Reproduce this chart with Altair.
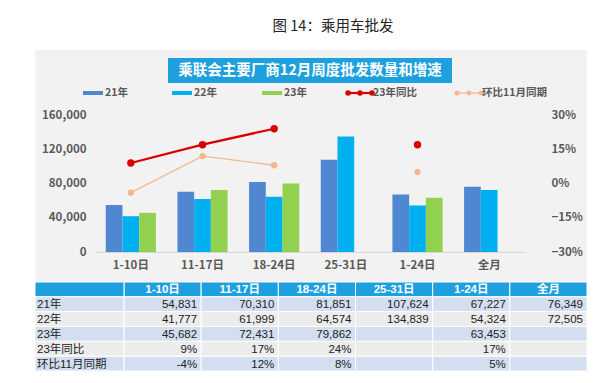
import altair as alt
import pandas as pd

# ---------------- data ----------------
categories = ["1-10日", "11-17日", "18-24日", "25-31日", "1-24日", "全月"]
series = ["21年", "22年", "23年"]
sales_21 = [54831, 70310, 81851, 107624, 67227, 76349]
sales_22 = [41777, 61999, 64574, 134839, 54324, 72505]
sales_23 = [45682, 72431, 79862, None, 63453, None]
yoy_23 = [0.09, 0.17, 0.24, None, 0.17, None]
mom_nov = [-0.04, 0.12, 0.08, None, 0.05, None]
period_group = ["周", "周", "周", "周", "累计", "累计"]
rate_names = ["23年同比", "环比11月同期"]
table_rows = ["21年", "22年", "23年", "23年同比", "环比11月同期"]
left_ticks = [0, 40000, 80000, 120000, 160000]
right_ticks = [-0.3, -0.15, 0, 0.15, 0.3]
fig_title = "图 14：乘用车批发"
chart_title = "乘联会主要厂商12月周度批发数量和增速"

# ---------------- styles ----------------
C21, C22, C23 = "#4f87d1", "#00aff0", "#92d050"
RED, ORANGE = "#d90000", "#f5b88c"
bar_colors = [C21, C22, C23]
rate_colors = [RED, ORANGE]
HDR = "#1ea0df"
ROW_BLUE, ROW_GRAY = "#d3dff0", "#ececec"
PANEL = "#f2f2f2"
AXIS_TXT = "#595959"
FONT_CJK = "Noto Sans CJK SC"
FONT_TBL = "Liberation Sans, Noto Sans CJK SC"

# ---------------- tables ----------------
bar_rows = []
for s, vals in zip(series, [sales_21, sales_22, sales_23]):
    for c, v in zip(categories, vals):
        if v is not None:
            bar_rows.append({"category": c, "series": s, "value": v})
bar_df = pd.DataFrame(bar_rows)

rate_rows = []
for name, vals in zip(rate_names, [yoy_23, mom_nov]):
    for c, g, v in zip(categories, period_group, vals):
        if v is not None:
            rate_rows.append({"category": c, "rate": name, "grp": g, "rate_value": v})
rate_df = pd.DataFrame(rate_rows)

row_keys = ["表头"] + table_rows
cell_rows, text_rows = [], []
for r in row_keys:
    for c in categories:
        cell_rows.append({"row": r, "col": c})
for c in categories:
    text_rows.append({"row": "表头", "col": c, "txt": c, "hdr": True})
for r, vals, kind in zip(table_rows, [sales_21, sales_22, sales_23, yoy_23, mom_nov],
                         ["n", "n", "n", "p", "p"]):
    for c, v in zip(categories, vals):
        if v is not None:
            t = f"{v:,}" if kind == "n" else f"{round(v * 100):d}%"
            text_rows.append({"row": r, "col": c, "txt": t, "hdr": False})
cell_df = pd.DataFrame(cell_rows)
text_df = pd.DataFrame(text_rows)
rowlab_df = pd.DataFrame({"row": row_keys, "label": [""] + table_rows})

one = alt.Data(values=[{"k": 0}])

# ---------------- chart ----------------
cat_scale = alt.Scale(domain=categories, paddingInner=0.3, paddingOuter=0.15)
x_axis = alt.Axis(title=None, labelAngle=0, ticks=False, domainColor="#d9d9d9",
                  labelFont=FONT_CJK, labelFontWeight="bold", labelFontSize=11.5,
                  labelColor=AXIS_TXT, labelPadding=7, zindex=1)
x_enc = alt.X("category:O", scale=cat_scale, axis=x_axis, sort=categories)

left_axis = alt.Axis(title=None, values=left_ticks,
                     labelExpr="format(datum.value, ',')", grid=False, domain=False,
                     ticks=False, labelFont=FONT_CJK, labelFontWeight="bold",
                     labelFontSize=11.5, labelColor=AXIS_TXT, labelPadding=9, zindex=1)
right_axis = alt.Axis(title=None, orient="right", values=right_ticks,
                      labelExpr="format(datum.value, '.0%')",
                      grid=False, domain=False, ticks=False, labelFont=FONT_CJK,
                      labelFontWeight="bold", labelFontSize=11.5, labelColor=AXIS_TXT,
                      labelPadding=26, zindex=1)

bars = alt.Chart(bar_df).mark_bar().encode(
    x=x_enc,
    xOffset=alt.XOffset("series:N", scale=alt.Scale(domain=series, paddingInner=0, paddingOuter=0)),
    y=alt.Y("value:Q", scale=alt.Scale(domain=[0, 160000], nice=False), axis=left_axis),
    color=alt.Color("series:N", scale=alt.Scale(domain=series, range=bar_colors), legend=None),
)

rate_layers = []
for name, col, w, sz in zip(rate_names, rate_colors, [2.2, 1.3], [55, 40]):
    d = rate_df[rate_df["rate"] == name]
    base = alt.Chart(d).encode(
        x=x_enc,
        y=alt.Y("rate_value:Q", scale=alt.Scale(domain=[-0.3, 0.3], nice=False), axis=right_axis),
    )
    rate_layers.append(base.mark_line(color=col, strokeWidth=w).encode(detail="grp:N"))
    rate_layers.append(base.mark_circle(color=col, size=sz, opacity=1))
rates = alt.layer(*rate_layers)
chart = alt.layer(bars, rates).resolve_scale(y="independent")

# ---------------- table ----------------
row_scale = alt.Scale(domain=row_keys, range=[167, 256], paddingInner=0, paddingOuter=0)
col_scale = alt.Scale(domain=categories, range=[29, 492], paddingInner=0, paddingOuter=0)
fill_scale = alt.Scale(domain=row_keys,
                       range=[HDR, ROW_BLUE, ROW_GRAY, ROW_BLUE, ROW_GRAY, ROW_BLUE])
y_mid = alt.Y("row:O", scale=row_scale, axis=None, sort=row_keys, bandPosition=0.5)

cells = alt.Chart(cell_df).mark_rect(stroke="white", strokeWidth=1).encode(
    x=alt.X("col:O", scale=col_scale, axis=None, sort=categories),
    y=alt.Y("row:O", scale=row_scale, axis=None, sort=row_keys),
    color=alt.Color("row:N", scale=fill_scale, legend=None),
)
rowlab_cells = alt.Chart(rowlab_df).mark_rect(stroke="white", strokeWidth=1).encode(
    x=alt.value(-60), x2=alt.value(29),
    y=alt.Y("row:O", scale=row_scale, axis=None, sort=row_keys),
    color=alt.Color("row:N", scale=fill_scale, legend=None),
)
rowlab_text = alt.Chart(rowlab_df).mark_text(
    align="left", baseline="middle", font=FONT_TBL, fontSize=11.5, color="#222222", dy=1
).encode(
    x=alt.value(-58),
    y=y_mid,
    text="label:N",
)
hdr_text = alt.Chart(text_df).transform_filter("datum.hdr").mark_text(
    align="center", baseline="middle", font=FONT_TBL, fontSize=11.5,
    fontWeight="bold", color="white", dy=1
).encode(
    x=alt.X("col:O", scale=col_scale, axis=None, sort=categories, bandPosition=0.5),
    y=y_mid,
    text="txt:N",
)
val_text = alt.Chart(text_df).transform_filter("!datum.hdr").mark_text(
    align="right", baseline="middle", font=FONT_TBL, fontSize=11.5, color="#222222",
    dx=-4, dy=1
).encode(
    x=alt.X("col:O", scale=col_scale, axis=None, sort=categories, bandPosition=1),
    y=y_mid,
    text="txt:N",
)
table = alt.layer(cells, rowlab_cells, rowlab_text, hdr_text, val_text)

# ---------------- decorations ----------------
panel = alt.Chart(one).mark_rect(color=PANEL).encode(
    x=alt.value(-60), x2=alt.value(492), y=alt.value(-65), y2=alt.value(167))
banner = alt.Chart(one).mark_rect(color=HDR).encode(
    x=alt.value(73), x2=alt.value(357), y=alt.value(-57), y2=alt.value(-32))
banner_text = alt.Chart(one).mark_text(
    text=chart_title, font=FONT_CJK, fontSize=14.5, fontWeight="bold", color="white",
    align="center", baseline="middle").encode(x=alt.value(215), y=alt.value(-44.5))
title_text = alt.Chart(one).mark_text(
    text=fig_title, font=FONT_CJK, fontSize=14.5, color="#222222",
    align="center", baseline="middle").encode(x=alt.value(238), y=alt.value(-88))

legend_layers = []
LY = -22
for lab, col, x0 in zip(series, bar_colors, [-12, 77, 167]):
    legend_layers.append(alt.Chart(one).mark_rule(color=col, strokeWidth=4).encode(
        x=alt.value(x0), x2=alt.value(x0 + 20), y=alt.value(LY)))
    legend_layers.append(alt.Chart(one).mark_text(
        text=lab, font=FONT_CJK, fontSize=10.5, fontWeight="bold", color=AXIS_TXT,
        align="left", baseline="middle").encode(x=alt.value(x0 + 22), y=alt.value(LY)))
for lab, col, x0, w, sz in zip(rate_names, rate_colors, [253, 362], [2.2, 1.3], [30, 25]):
    legend_layers.append(alt.Chart(one).mark_rule(color=col, strokeWidth=w).encode(
        x=alt.value(x0), x2=alt.value(x0 + 24), y=alt.value(LY)))
    for dxp in [0, 12, 24]:
        legend_layers.append(alt.Chart(one).mark_circle(color=col, size=sz, opacity=1).encode(
            x=alt.value(x0 + dxp), y=alt.value(LY)))
    legend_layers.append(alt.Chart(one).mark_text(
        text=lab, font=FONT_CJK, fontSize=10.5, fontWeight="bold", color=AXIS_TXT,
        align="left", baseline="middle").encode(x=alt.value(x0 + 25), y=alt.value(LY)))

full = alt.layer(
    panel, banner, banner_text, title_text, *legend_layers, chart, table
).resolve_scale(
    x="independent", y="independent", color="independent"
).properties(
    width=430, height=137,
    autosize=alt.AutoSizeParams(type="none"),
    padding={"left": 87, "top": 107, "right": 69, "bottom": 123},
    background="white",
).configure_view(stroke=None)

full.save("out.html", embed_options={"renderer": "svg", "actions": False})
